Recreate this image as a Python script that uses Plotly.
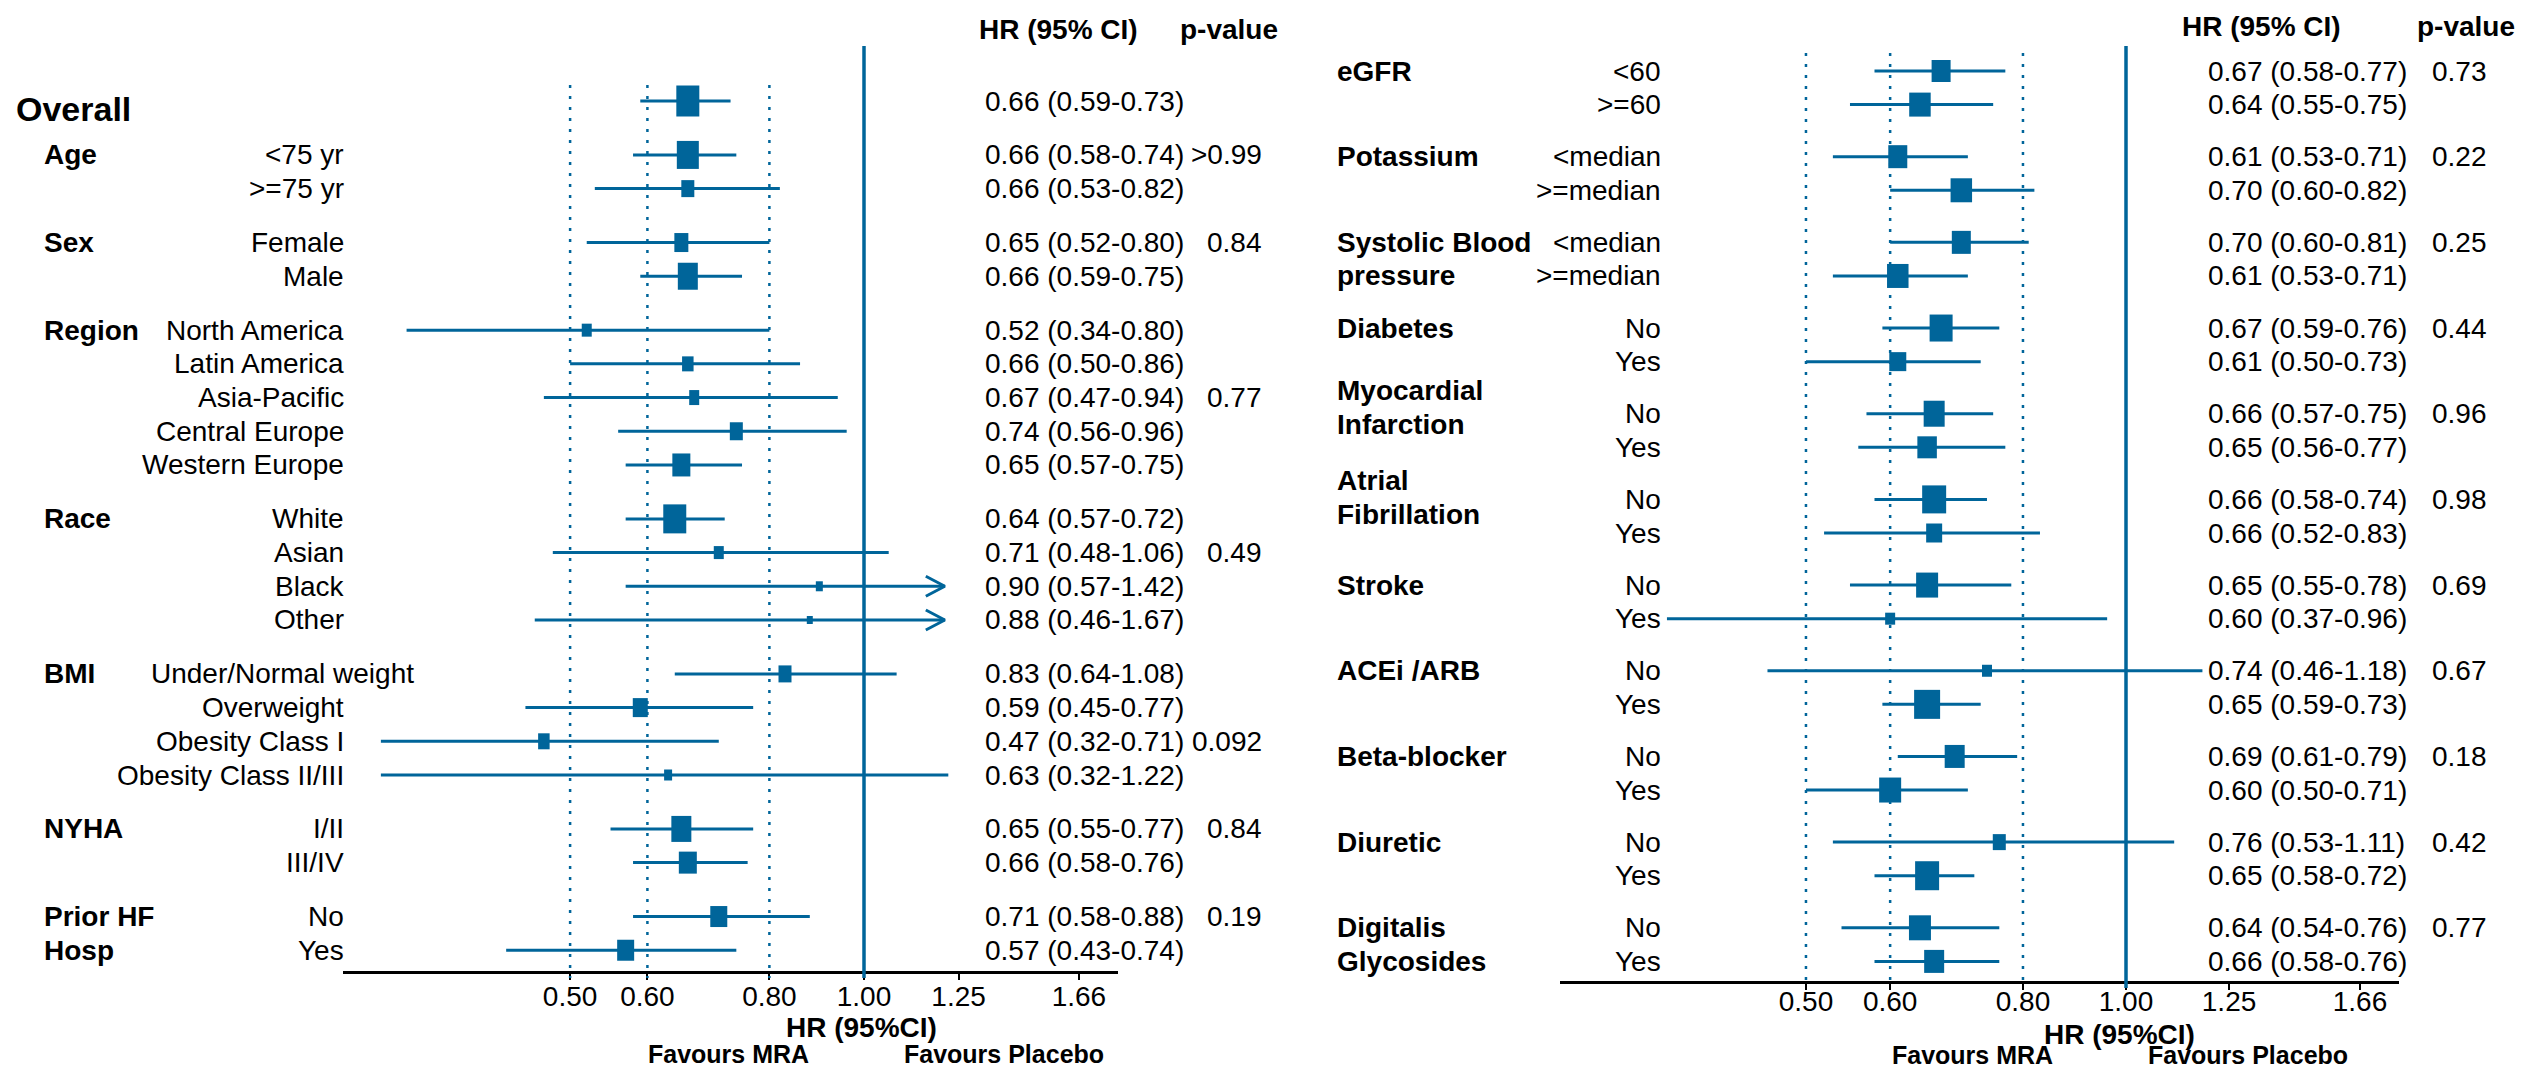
import math
import plotly.graph_objects as go

W, H = 2526, 1069
BLUE = "#00659a"
FONT = "Arial, 'Liberation Sans', sans-serif"

# ---------------- data ----------------
left_groups = ["Overall", "Age", "Sex", "Region", "Race", "BMI", "NYHA", "Prior HF<br>Hosp"]
left_subgroups = [
    [""],
    ["&lt;75 yr", "&gt;=75 yr"],
    ["Female", "Male"],
    ["North America", "Latin America", "Asia-Pacific", "Central Europe", "Western Europe"],
    ["White", "Asian", "Black", "Other"],
    ["Under/Normal weight", "Overweight", "Obesity Class I", "Obesity Class II/III"],
    ["I/II", "III/IV"],
    ["No", "Yes"],
]
left_hr = [0.66, 0.66, 0.66, 0.65, 0.66, 0.52, 0.66, 0.67, 0.74, 0.65, 0.64,
           0.71, 0.90, 0.88, 0.83, 0.59, 0.47, 0.63, 0.65, 0.66, 0.71, 0.57]
left_lo = [0.59, 0.58, 0.53, 0.52, 0.59, 0.34, 0.50, 0.47, 0.56, 0.57, 0.57,
           0.48, 0.57, 0.46, 0.64, 0.45, 0.32, 0.32, 0.55, 0.58, 0.58, 0.43]
left_hi = [0.73, 0.74, 0.82, 0.80, 0.75, 0.80, 0.86, 0.94, 0.96, 0.75, 0.72,
           1.06, 1.42, 1.67, 1.08, 0.77, 0.71, 1.22, 0.77, 0.76, 0.88, 0.74]
left_p = ["", "&gt;0.99", "", "0.84", "", "", "", "0.77", "", "", "", "0.49",
          "", "", "", "", "0.092", "", "0.84", "", "0.19", ""]

right_groups = ["eGFR", "Potassium", "Systolic Blood<br>pressure", "Diabetes",
                "Myocardial<br>Infarction", "Atrial<br>Fibrillation", "Stroke",
                "ACEi /ARB", "Beta-blocker", "Diuretic", "Digitalis<br>Glycosides"]
right_subgroups = [
    ["&lt;60", "&gt;=60"],
    ["&lt;median", "&gt;=median"],
    ["&lt;median", "&gt;=median"],
    ["No", "Yes"], ["No", "Yes"], ["No", "Yes"], ["No", "Yes"],
    ["No", "Yes"], ["No", "Yes"], ["No", "Yes"], ["No", "Yes"],
]
right_hr = [0.67, 0.64, 0.61, 0.70, 0.70, 0.61, 0.67, 0.61, 0.66, 0.65, 0.66,
            0.66, 0.65, 0.60, 0.74, 0.65, 0.69, 0.60, 0.76, 0.65, 0.64, 0.66]
right_lo = [0.58, 0.55, 0.53, 0.60, 0.60, 0.53, 0.59, 0.50, 0.57, 0.56, 0.58,
            0.52, 0.55, 0.37, 0.46, 0.59, 0.61, 0.50, 0.53, 0.58, 0.54, 0.58]
right_hi = [0.77, 0.75, 0.71, 0.82, 0.81, 0.71, 0.76, 0.73, 0.75, 0.77, 0.74,
            0.83, 0.78, 0.96, 1.18, 0.73, 0.79, 0.71, 1.11, 0.72, 0.76, 0.76]
right_p = ["0.73", "", "0.22", "", "0.25", "", "0.44", "", "0.96", "", "0.98", "",
           "0.69", "", "0.67", "", "0.18", "", "0.42", "", "0.77", ""]

tick_vals = [0.50, 0.60, 0.80, 1.00, 1.25, 1.66]
tick_text = ["0.50", "0.60", "0.80", "1.00", "1.25", "1.66"]
dotted_refs = [0.5, 0.6, 0.8]
null_ref = 1.0

# ---------------- styles (box sizes in px) ----------------
left_box_w = [23, 22, 13, 14, 20, 10, 11.5, 10, 13, 18, 23, 10, 7, 6, 13, 15, 11.5, 8, 20, 18, 17, 17]
left_box_h = [31, 28, 17, 19, 27, 13, 15, 15, 18, 23, 29, 13, 10, 8, 17, 19, 16, 11, 26, 22, 21, 21]
right_box_w = [19, 21.5, 19, 21.5, 19, 21.5, 23, 17, 21, 19.5, 24, 16, 22, 10, 10, 26, 20, 22, 13, 24, 22, 20]
right_box_h = [22, 24, 23, 24, 23, 24, 27, 19, 26, 22, 28, 19, 25, 12, 12, 29, 23, 25, 16, 29, 25, 23]

left_cfg = dict(xa="x", ya="y", xname="xaxis", yname="yaxis",
                one_px=864, px_per_ln=424, x0_px=343, x1_px=1118,
                row0_px=101, row_px=33.7, gap=1.6, axis_px=972,
                solid_top_px=46, dot_top_px=85, cap=1.21,
                group_x=42, sub_x=346, hr_x=983, p_x=1264,
                head_hr_x=977, head_p_x=1178, head_y=30,
                title_x=861, title_y=1027, mra_x=728, plc_x=1004, fav_y=1054,
                tick_standoff=-8,
                group_shift={0: 0.25}, sub_x_override={"Under/Normal weight": 416},
                first_group_size=34)
right_cfg = dict(xa="x2", ya="y2", xname="xaxis2", yname="yaxis2",
                 one_px=2126, px_per_ln=461.7, x0_px=1560, x1_px=2399,
                 row0_px=71, row_px=33.6, gap=1.55, axis_px=982,
                 solid_top_px=46, dot_top_px=53, cap=1.21,
                 group_x=1335, sub_x=1663, hr_x=2206, p_x=2489,
                 head_hr_x=2180, head_p_x=2415, head_y=27,
                 title_x=2119, title_y=1034, mra_x=1972, plc_x=2248, fav_y=1055,
                 tick_standoff=-13,
                 group_shift={4: -0.68, 5: -0.55}, sub_x_override={},
                 first_group_size=28)


def row_positions(subgroups, gap):
    pos, first = [], []
    y = None
    for subs in subgroups:
        y = 0.0 if y is None else y + gap
        first.append(y)
        for k in range(len(subs)):
            pos.append(y + k)
        y = pos[-1]
    return pos, first


fig = go.Figure()
annotations = []


def px_to_row(cfg, px):
    return (px - cfg["row0_px"]) / cfg["row_px"]


def add_panel(cfg, groups, subgroups, hr, lo, hi, pvals, box_w, box_h):
    xa, ya = cfg["xa"], cfg["ya"]
    rows, first = row_positions(subgroups, cfg["gap"])
    tick_row = px_to_row(cfg, cfg["axis_px"] + 6)

    # reference lines
    for v in dotted_refs:
        fig.add_trace(go.Scatter(x=[v, v], y=[px_to_row(cfg, cfg["dot_top_px"]), tick_row],
                                 mode="lines", xaxis=xa, yaxis=ya, hoverinfo="skip",
                                 line=dict(color=BLUE, width=2.5, dash="3px,8px"), showlegend=False))
    fig.add_trace(go.Scatter(x=[null_ref, null_ref], y=[px_to_row(cfg, cfg["solid_top_px"]), tick_row],
                             mode="lines", xaxis=xa, yaxis=ya, hoverinfo="skip",
                             line=dict(color=BLUE, width=3.5), showlegend=False))

    # CI lines (clipped with an arrow when beyond the drawn range)
    cx, cy, ax_, ay_ = [], [], [], []
    back = math.exp(-19 / cfg["px_per_ln"])
    half = 10 / cfg["row_px"]
    for r, l, h in zip(rows, lo, hi):
        if h > cfg["cap"] + 0.1:
            tip = cfg["cap"]
            cx += [l, tip, None]
            cy += [r, r, None]
            ax_ += [tip * back, tip, tip * back, None]
            ay_ += [r - half, r, r + half, None]
        else:
            cx += [l, h, None]
            cy += [r, r, None]
    fig.add_trace(go.Scatter(x=cx, y=cy, mode="lines", xaxis=xa, yaxis=ya,
                             line=dict(color=BLUE, width=3), showlegend=False, hoverinfo="skip"))
    if ax_:
        fig.add_trace(go.Scatter(x=ax_, y=ay_, mode="lines", xaxis=xa, yaxis=ya,
                                 line=dict(color=BLUE, width=3), showlegend=False, hoverinfo="skip"))

    # boxes (vertical thick bar markers)
    fig.add_trace(go.Scatter(
        x=hr, y=rows, mode="markers", xaxis=xa, yaxis=ya, showlegend=False,
        marker=dict(symbol="line-ns", size=[h / 1.4 for h in box_h], color=BLUE, opacity=1,
                    line=dict(color=BLUE, width=box_w)),
        hovertemplate="HR %{x:.2f}<extra></extra>"))

    def txt(text, xpx, yrow, anchor, size=28, bold=False):
        annotations.append(dict(
            text=f"<b>{text}</b>" if bold else text, x=xpx / W, xref="paper",
            y=yrow, yref=ya, xanchor=anchor, yanchor="middle", showarrow=False,
            font=dict(family=FONT, size=size, color="black")))

    def ptxt(text, xpx, ypx, anchor, size=28, bold=True):
        annotations.append(dict(
            text=f"<b>{text}</b>" if bold else text, x=xpx / W, xref="paper",
            y=1 - ypx / H, yref="paper", xanchor=anchor, yanchor="middle", showarrow=False,
            font=dict(family=FONT, size=size, color="black")))

    # group labels
    for gi, g in enumerate(groups):
        shift = cfg["group_shift"].get(gi, 0)
        lines = g.split("<br>")
        if gi == 0 and xa == "x":
            txt(g, 14, first[gi] + shift, "left", size=cfg["first_group_size"], bold=True)
            continue
        for li, line in enumerate(lines):
            txt(line, cfg["group_x"], first[gi] + li + shift, "left", bold=True)

    # subgroup labels, HR text, p-values
    flat_subs = [s for subs in subgroups for s in subs]
    for i, s in enumerate(flat_subs):
        if s:
            sx = cfg["sub_x_override"].get(s, cfg["sub_x"])
            txt(s, sx, rows[i], "right")
        txt(f"{hr[i]:.2f} ({lo[i]:.2f}-{hi[i]:.2f})", cfg["hr_x"], rows[i], "left")
        if pvals[i]:
            txt(pvals[i], cfg["p_x"], rows[i], "right")

    # headers and axis captions
    ptxt("HR (95% CI)", cfg["head_hr_x"], cfg["head_y"], "left")
    ptxt("p-value", cfg["head_p_x"], cfg["head_y"], "left")
    ptxt("HR (95%CI)", cfg["title_x"], cfg["title_y"], "center")
    ptxt("Favours MRA", cfg["mra_x"], cfg["fav_y"], "center", size=25)
    ptxt("Favours Placebo", cfg["plc_x"], cfg["fav_y"], "center", size=25)

    # axes
    ln10 = math.log(10)
    r0 = (cfg["x0_px"] - cfg["one_px"]) / (cfg["px_per_ln"] * ln10)
    r1 = (cfg["x1_px"] - cfg["one_px"]) / (cfg["px_per_ln"] * ln10)
    bottom = px_to_row(cfg, H)
    top = px_to_row(cfg, 0)
    fig.update_layout(**{
        cfg["xname"]: dict(
            type="log", domain=[cfg["x0_px"] / W, cfg["x1_px"] / W], range=[r0, r1],
            anchor="free", position=(H - cfg["axis_px"]) / H,
            showline=True, linecolor="black", linewidth=3,
            ticks="outside", ticklen=6, tickwidth=2, tickcolor="black",
            ticklabelstandoff=cfg["tick_standoff"],
            tickvals=tick_vals, ticktext=tick_text, layer="below traces",
            tickfont=dict(family=FONT, size=28, color="black"),
            showgrid=False, zeroline=False, fixedrange=True),
        cfg["yname"]: dict(
            domain=[0, 1], range=[bottom, top], visible=False,
            anchor=xa, showgrid=False, zeroline=False, fixedrange=True),
    })


add_panel(left_cfg, left_groups, left_subgroups, left_hr, left_lo, left_hi, left_p,
          left_box_w, left_box_h)
add_panel(right_cfg, right_groups, right_subgroups, right_hr, right_lo, right_hi, right_p,
          right_box_w, right_box_h)

fig.update_layout(
    width=W, height=H, margin=dict(l=0, r=0, t=0, b=0),
    paper_bgcolor="white", plot_bgcolor="white",
    annotations=annotations, showlegend=False,
    font=dict(family=FONT, size=28, color="black"),
)

fig.write_html("out.html", config=dict(displayModeBar=False))
